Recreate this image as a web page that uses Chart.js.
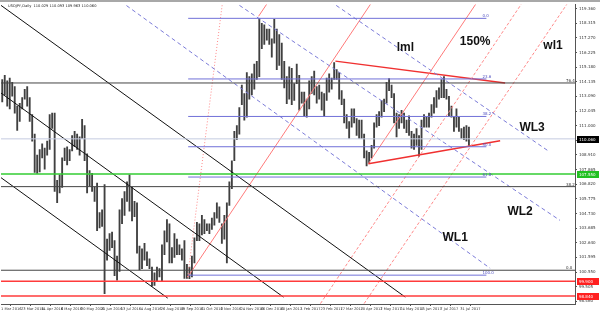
<!DOCTYPE html>
<html>
<head>
<meta charset="utf-8">
<script src="https://cdn.jsdelivr.net/npm/chart.js@4.4.0/dist/chart.umd.min.js"></script>
<style>
html,body{margin:0;padding:0;background:#fff}
</style>
</head>
<body>
<canvas id="c" width="600" height="313"></canvas>
<script>
const lows = [112.7,113.2,112.4,112.2,113.1,111.9,110.67,111.3,112.2,112.9,112.4,111.3,109.9,107.67,107.6,107.7,108.7,107.9,108.9,109.3,
110.8,106.3,105.5,106.2,106.6,108.5,108.2,108.5,109.2,109.5,109.3,108.9,110.1,108.5,106.2,106.7,106.3,105.6,103.5,103.7,
103.8,99.0,101.4,102.1,102.3,100.3,99.98,100.6,104.0,104.6,105.6,104.9,104.2,104.5,101.9,100.7,100.8,101.4,101.0,100.8,
99.55,99.6,99.9,100.2,99.9,101.8,102.7,101.2,101.2,101.6,101.8,101.8,101.4,100.1,100.1,100.08,100.2,101.2,102.8,102.8,
103.2,103.3,103.5,103.3,103.6,103.9,104.4,104.1,102.6,102.9,101.2,105.3,106.5,108.5,110.0,110.4,112.5,111.4,111.6,112.9,
113.2,113.6,114.3,114.5,116.5,116.8,117.1,116.8,115.9,116.9,115.0,115.3,114.3,113.7,112.57,112.9,112.5,112.8,114.0,112.1,
112.6,111.7,111.6,112.2,113.3,113.2,112.6,112.9,112.1,111.7,112.8,113.4,113.6,114.3,114.3,112.9,112.5,111.2,110.8,110.1,
110.9,111.2,110.3,110.1,110.1,108.7,108.13,108.3,108.7,109.4,110.9,111.0,111.6,112.0,112.6,113.5,113.0,111.2,110.2,110.8,
111.2,110.8,110.5,110.3,109.4,109.3,109.6,108.8,109.3,110.9,110.9,110.9,111.6,111.9,112.3,112.9,113.0,113.0,112.9,111.7,
111.6,110.6,110.9,110.6,110.1,110.0,109.9,109.6];
const highs = [114.3,114.6,114.2,114.4,114.1,113.8,112.4,112.6,113.0,113.6,113.8,113.0,111.8,110.4,108.9,109.3,109.7,109.4,109.9,111.8,
111.9,111.9,107.1,107.5,108.7,109.4,109.5,109.3,110.3,110.6,110.4,110.2,111.45,111.0,109.0,107.8,107.6,106.6,106.9,104.8,
105.0,106.8,102.9,103.3,103.4,102.8,101.7,105.0,105.8,106.3,107.0,107.49,106.6,105.6,105.5,102.4,102.2,102.6,102.0,101.5,
100.9,100.5,100.9,100.8,102.5,103.5,104.3,104.0,102.3,103.3,102.9,102.5,102.2,102.8,101.1,100.9,101.7,103.0,104.1,104.0,
104.6,104.3,104.0,104.0,104.4,104.8,105.5,105.2,104.0,104.6,105.5,107.0,108.5,110.6,111.0,112.3,113.9,113.3,114.8,114.5,
114.7,115.4,115.6,118.66,118.3,118.2,117.9,117.9,117.2,118.6,117.9,117.5,116.9,115.6,114.5,115.2,115.1,114.0,115.4,114.6,
113.4,113.4,112.9,114.2,114.5,114.9,113.8,113.9,113.4,113.3,114.4,114.7,114.4,115.5,115.0,114.8,113.5,112.9,111.8,111.3,
112.2,112.2,111.5,111.4,111.4,110.4,109.2,109.1,109.6,111.2,111.8,112.0,112.8,112.9,114.1,114.37,113.9,113.3,111.9,111.8,
112.1,111.9,111.4,111.7,110.6,110.4,110.8,110.3,111.4,111.8,111.6,111.9,112.5,113.0,113.5,113.7,114.3,114.5,113.6,113.1,
112.4,111.6,112.2,111.6,110.8,110.9,111.0,110.9];

const xLabels = ['1 Mar 2016','23 Mar 2016','14 Apr 2016','6 May 2016','30 May 2016','21 Jun 2016','13 Jul 2016','4 Aug 2016',
'26 Aug 2016','19 Sep 2016','11 Oct 2016','2 Nov 2016','24 Nov 2016','16 Dec 2016','10 Jan 2017','1 Feb 2017','23 Feb 2017',
'17 Mar 2017','10 Apr 2017','2 May 2017','24 May 2017','15 Jun 2017','7 Jul 2017','31 Jul 2017'];
const yTicks = [98.460,99.505,100.550,101.595,102.640,103.685,104.730,105.775,106.820,107.865,108.910,109.955,111.000,
112.045,113.090,114.135,115.180,116.225,117.270,118.315,119.360];

// objects on the chart: [day1, price1, day2, price2]
const blackTrend = [[0,119.59,324,98.76],[0,113.33,226.4,98.76],[0,107.29,133.6,98.69]];
const blueDashed = [[96,119.87,392,100.82],[186.4,119.87,448,104.24],[264,119.87,438.4,109.21]];
const pitchfork = [[149.6,100.19,297.6,119.87],[206.4,118.81,214.4,119.87],[294.4,108.29,381.9,119.87]];
const pinkLines = [[256,98.3,418.4,119.87],[291,98.3,455,119.87]];
const pinkDotted = [[149.6,100.19,177.6,119.87]];
const triangle = [[268,115.61,404,114.05],[294.4,108.29,400,109.92]];
const blackLevels = [114.05,106.65,100.68];
const blackLevelNames = ['76.4','38.2','0.0'];
const greenLevel = 107.55;
const redLevels = [99.90,98.84];
const lastPrice = 110.06;
const fibHigh = 118.665, fibLow = 100.33, fibStart = 150, fibEnd = 389;
const fibLevels = [0,23.6,38.2,50,61.8,100];
const notes = [['lml',324,116.6],['150%',380,117.03],['wl1',442.4,116.68],['WL3',425.6,110.85],['WL2',416,104.88],['WL1',364,103.03]];

function seg(s, color, width, dash) {
  return {type:'line', data:[{x:s[0],y:s[1]},{x:s[2],y:s[3]}], borderColor:color, borderWidth:width,
    borderDash:dash||[], pointRadius:0, fill:false, tension:0, order:0};
}

const datasets = [];
blackLevels.forEach(p => datasets.push(seg([0,p,460,p],'#444',1)));
datasets.push(seg([0,lastPrice,460,lastPrice],'#c4cbe0',1));
datasets.push(seg([0,greenLevel,460,greenLevel],'#33cc33',1.5));
redLevels.forEach(p => datasets.push(seg([0,p,460,p],'#ff3b3b',1.5)));
fibLevels.forEach(l => {
  const p = fibHigh - l/100*(fibHigh-fibLow);
  datasets.push(seg([fibStart,p,fibEnd,p],'#7070d8',1));
});
blackTrend.forEach(s => datasets.push(seg(s,'#111',1)));
blueDashed.forEach(s => datasets.push(seg(s,'#7b7bd8',1,[4,3])));
pitchfork.forEach(s => datasets.push(seg(s,'#ff7a7a',1)));
pinkLines.forEach(s => datasets.push(seg(s,'#ff8a8a',1,[3,2])));
pinkDotted.forEach(s => datasets.push(seg(s,'#ff8a8a',1,[1,2])));
triangle.forEach(s => datasets.push(seg(s,'#f03030',1.5)));

datasets.push({
  type:'bar',
  data: highs.map((h,i) => ({x: 2*i+1, y:[lows[i], h]})),
  backgroundColor:'#404040', borderWidth:0, barThickness:1.2, order:1
});

const annot = {
  id:'annot',
  afterDatasetsDraw(chart) {
    const {ctx, scales:{x,y}} = chart;
    ctx.save();
    ctx.font = '4px "DejaVu Sans"';
    ctx.fillStyle = '#5050c0';
    ctx.textBaseline = 'middle';
    fibLevels.forEach(l => {
      const p = fibHigh - l/100*(fibHigh-fibLow);
      ctx.fillText(l.toFixed(1), x.getPixelForValue(fibEnd)-4, y.getPixelForValue(p)-2);
    });
    ctx.fillStyle = '#333';
    blackLevels.forEach((p,i) => ctx.fillText(blackLevelNames[i], 566, y.getPixelForValue(p)-2));
    ctx.font = 'bold 12px "Liberation Sans"';
    ctx.fillStyle = '#111';
    ctx.textAlign = 'center';
    notes.forEach(n => ctx.fillText(n[0], x.getPixelForValue(n[1]), y.getPixelForValue(n[2])));
    ctx.restore();
  },
  afterDraw(chart) {
    const {ctx, scales:{y}} = chart;
    ctx.save();
    ctx.fillStyle = '#a8a8a8';
    ctx.fillRect(0,0,600,2);
    ctx.font = '3.6px "DejaVu Sans"';
    ctx.fillStyle = '#222';
    ctx.textBaseline = 'middle';
    ctx.fillText('USDJPY,Daily  110.029 110.093 109.963 110.060', 8, 6);
    ctx.font = '4px "DejaVu Sans"';
    const box = (p, bg) => {
      const py = Math.round(y.getPixelForValue(p));
      ctx.fillStyle = bg;
      ctx.fillRect(577, py-3, 22, 7);
      ctx.fillStyle = '#fff';
      ctx.fillText(p.toFixed(3), 579, py+0.5);
    };
    box(lastPrice,'#000');
    box(greenLevel,'#22c022');
    redLevels.forEach(p => box(p,'#ff2020'));
    ctx.restore();
  }
};

new Chart(document.getElementById('c'), {
  type:'bar',
  data:{datasets},
  options:{
    responsive:false, animation:false, devicePixelRatio:1,
    layout:{padding:{top:3,left:0,right:0,bottom:0}, autoPadding:false},
    plugins:{legend:{display:false}, tooltip:{enabled:false}},
    scales:{
      x:{type:'linear', min:0, max:460, offset:false,
        afterBuildTicks: s => { s.ticks = xLabels.map((_,k) => ({value:k*16})); },
        afterFit: s => { s.height = 9; },
        ticks:{autoSkip:false, maxRotation:0, align:'start', padding:1, color:'#333',
          font:{family:'DejaVu Sans', size:3.6}, callback:(v,i) => xLabels[i]},
        grid:{drawOnChartArea:false, tickLength:2, color:'#555'},
        border:{color:'#555'}},
      y:{position:'right', min:98.27, max:119.66,
        afterBuildTicks: s => { s.ticks = yTicks.map(v => ({value:v})); },
        afterFit: s => { s.width = 25; },
        ticks:{autoSkip:false, crossAlign:'near', padding:2, color:'#333',
          font:{family:'DejaVu Sans', size:4}, callback: v => v.toFixed(3)},
        grid:{drawOnChartArea:false, tickLength:2, color:'#555'},
        border:{color:'#555'}}
    }
  },
  plugins:[annot]
});
</script>
</body>
</html>
